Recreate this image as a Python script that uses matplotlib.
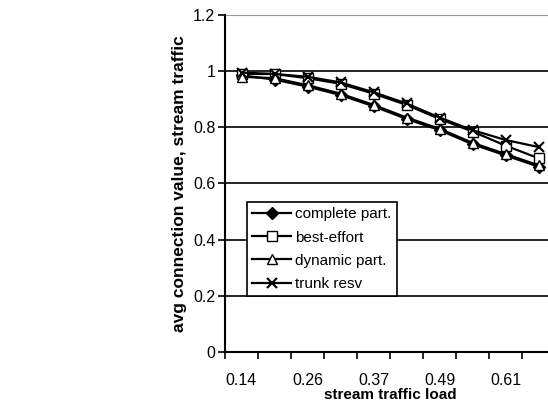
import matplotlib
matplotlib.use("Agg")
import matplotlib.pyplot as plt
import numpy as np

plt.rcParams['font.family'] = ['Liberation Sans', 'DejaVu Sans']

loads = ["0.14", "0.20", "0.26", "0.31", "0.37", "0.43", "0.49", "0.55", "0.61", "0.67"]
complete_part = [0.985, 0.97, 0.945, 0.915, 0.875, 0.83, 0.79, 0.74, 0.70, 0.66]
best_effort = [0.99, 0.99, 0.975, 0.955, 0.92, 0.88, 0.83, 0.785, 0.735, 0.69]
dynamic_part = [0.98, 0.975, 0.95, 0.92, 0.88, 0.835, 0.795, 0.745, 0.705, 0.665]
trunk_resv = [0.995, 0.99, 0.98, 0.96, 0.925, 0.885, 0.835, 0.79, 0.755, 0.73]
y_ticks = [0, 0.2, 0.4, 0.6, 0.8, 1, 1.2]

W, H = 548, 405
fig = plt.figure(figsize=(W / 100, H / 100), dpi=100)
x0, x1, yb, yt = 225, 555, 352, 15
ax = fig.add_axes([x0 / W, (H - yb) / H, (x1 - x0) / W, (yb - yt) / H])

x = np.arange(len(loads))
lw = 1.6
ax.plot(x, complete_part, marker='D', color='black', mfc='black', mec='black', ms=6,
        lw=lw, label='complete part.', clip_on=False, zorder=3)
ax.plot(x, best_effort, marker='s', color='black', mfc='white', mec='black', ms=6.5,
        lw=lw, label='best-effort', clip_on=False, zorder=3)
ax.plot(x, dynamic_part, marker='^', color='black', mfc='white', mec='black', ms=7,
        lw=lw, label='dynamic part.', clip_on=False, zorder=3)
ax.plot(x, trunk_resv, marker='x', color='black', mec='black', mew=1.5, ms=7,
        lw=lw, label='trunk resv', clip_on=False, zorder=3)

ax.set_xlim(-0.5, len(loads) - 0.5)
ax.set_ylim(0, 1.2)
ax.set_yticks(y_ticks)
ax.set_yticklabels([("%g" % v) for v in y_ticks], fontsize=11.5)
for v in y_ticks[1:-1]:
    ax.axhline(v, color='black', lw=1.2, zorder=1)
ax.axhline(1.2, color='#999999', lw=1.5, zorder=1)

ax.set_xticks(np.arange(len(loads) + 1) - 0.5, minor=False)
ax.set_xticklabels([])
ax.set_xticks(x[::2], minor=True)
ax.set_xticklabels(loads[::2], minor=True, fontsize=11.5)
ax.tick_params(axis='x', which='major', direction='out', length=5, width=1.2)
ax.tick_params(axis='x', which='minor', length=0, pad=15)
ax.tick_params(axis='y', direction='out', length=5, width=1.2, pad=2)

for s in ['top', 'right']:
    ax.spines[s].set_visible(False)
ax.spines['left'].set_linewidth(1.5)
ax.spines['bottom'].set_linewidth(1.5)

ax.set_xlabel('stream traffic load', fontsize=11, fontweight='bold', labelpad=0.3)
ax.set_ylabel('avg connection value, stream traffic', fontsize=12.5, fontweight='bold', labelpad=4)

leg = ax.legend(loc='upper left', bbox_to_anchor=(0.067, 0.445), frameon=True, fancybox=False,
                edgecolor='black', fontsize=11, handlelength=2.5, handletextpad=0.3,
                borderpad=0.35, labelspacing=0.6, borderaxespad=0)
leg.get_frame().set_linewidth(1.2)
leg.get_frame().set_alpha(1)

fig.savefig('out.png', dpi=100)
